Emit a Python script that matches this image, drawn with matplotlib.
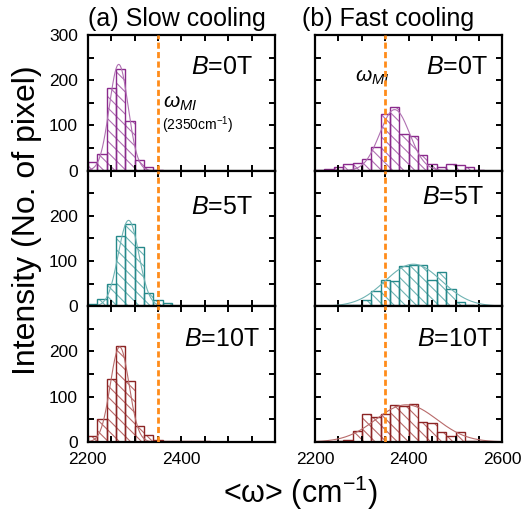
import numpy as np
import matplotlib
matplotlib.use("Agg")
import matplotlib.pyplot as plt

plt.rcParams['font.family'] = ['Liberation Sans', 'DejaVu Sans']
plt.rcParams['mathtext.fontset'] = 'custom'
plt.rcParams['mathtext.rm'] = 'Liberation Sans'
plt.rcParams['mathtext.it'] = 'Liberation Sans:italic'
plt.rcParams['hatch.linewidth'] = 0.8

# histogram bins (cm^-1), 20 wide starting at 2200
bin_start = 2200
bin_width = 20

# pixel counts per bin, slow cooling
slow_0T = [20, 37, 183, 225, 110, 24, 8, 2]
slow_5T = [6, 16, 50, 156, 181, 132, 30, 13, 8]
slow_10T = [13, 50, 139, 211, 134, 36, 16, 4, 3, 2, 2, 2, 2]

# pixel counts per bin, fast cooling
fast_0T = [2, 4, 9, 14, 17, 26, 52, 125, 141, 82, 77, 34, 14, 9, 14, 12, 7, 2]
fast_5T = [0, 0, 1, 2, 3, 13, 33, 58, 56, 89, 92, 92, 59, 75, 39, 10, 3]
fast_10T = [0, 0, 2, 4, 25, 61, 56, 62, 82, 79, 84, 43, 41, 21, 13, 21, 3, 2]

# gaussian fits: (center, sigma, amplitude)
slow_fits = [(2266, 20, 235), (2287, 22, 190), (2268, 20, 210)]
fast_fits = [(2370, 32, 135), (2410, 60, 93), (2395, 65, 82)]

fields = ['0T', '5T', '10T']
omega_mi = 2350

edge_colors = ['#8a2a8c', '#25898a', '#8c2424']
hatch_colors = ['#b070b2', '#6fb3b3', '#b86a6a']

# B-label anchor (right edge, baseline) in axes coords
slow_label_pos = [(0.88, 0.71), (0.88, 0.68), (0.92, 0.705)]
fast_label_pos = [(0.92, 0.71), (0.90, 0.755), (0.95, 0.705)]

fig = plt.figure(figsize=(5.26, 5.15), dpi=100)

h = 0.790 / 3
bottom0 = 0.142
col_x = [0.167, 0.599]
col_w = 0.356


def draw_panel(ax, counts, fit, color, hcolor):
    counts = np.asarray(counts)
    lefts = bin_start + bin_width * np.arange(len(counts))
    ax.bar(lefts, counts, width=bin_width, align='edge', facecolor='none',
           edgecolor=hcolor, linewidth=0, hatch='\\\\\\')
    ax.bar(lefts, counts, width=bin_width, align='edge', fill=False,
           edgecolor=color, linewidth=1.0)
    c, s, a = fit
    xs = np.linspace(2200, 2600, 400)
    ax.plot(xs, a * np.exp(-(xs - c) ** 2 / (2 * s ** 2)), color=hcolor, lw=0.8)
    ax.axvline(omega_mi, color='#ff8c1a', lw=2.0, ls=(0, (2.2, 1.2)), zorder=5)
    ax.set_xlim(2200, 2600)
    ax.set_ylim(0, 300)
    ax.set_xticks(np.arange(2200, 2601, 50))
    ax.set_yticks(np.arange(0, 301, 50))
    ax.tick_params(direction='in', top=True, right=True, length=4, width=1.4,
                   labelsize=12.5, pad=7)
    for sp in ax.spines.values():
        sp.set_linewidth(1.6)


slow_sets = [slow_0T, slow_5T, slow_10T]
fast_sets = [fast_0T, fast_5T, fast_10T]

for col, (sets, fits, label_pos) in enumerate([(slow_sets, slow_fits, slow_label_pos),
                                               (fast_sets, fast_fits, fast_label_pos)]):
    for row in range(3):
        ax = fig.add_axes([col_x[col], bottom0 + (2 - row) * h, col_w, h])
        draw_panel(ax, sets[row], fits[row], edge_colors[row], hatch_colors[row])

        ylabels = ['0', '', '100', '', '200', '', '300' if row == 0 else '']
        if col == 0:
            ax.set_yticklabels(ylabels)
        else:
            ax.set_yticklabels([])
        if row == 2:
            xl = ['2200', '', '', '', '2400', '', '', '', '2600' if col == 1 else '']
            ax.set_xticklabels(xl)
        else:
            ax.set_xticklabels([])

        bx, by = label_pos[row]
        ax.text(bx, by, '$B$=' + fields[row], transform=ax.transAxes,
                ha='right', va='baseline', fontsize=18)

        if row == 0 and col == 0:
            ax.text(0.40, 0.465, r'$\omega_{MI}$', transform=ax.transAxes,
                    ha='left', va='baseline', fontsize=15)
            ax.text(0.395, 0.30, '(2350cm$^{-1}$)', transform=ax.transAxes,
                    ha='left', va='baseline', fontsize=10)
        if row == 0 and col == 1:
            ax.text(0.215, 0.655, r'$\omega_{MI}$', transform=ax.transAxes,
                    ha='left', va='baseline', fontsize=15)

fig.text(0.167, 0.95, '(a) Slow cooling', ha='left', va='baseline', fontsize=18)
fig.text(0.574, 0.95, '(b) Fast cooling', ha='left', va='baseline', fontsize=18)
fig.text(0.052, 0.573, 'Intensity (No. of pixel)', rotation=90,
         ha='center', va='center', fontsize=23)
fig.text(0.571, 0.023, '<ω> (cm$^{-1}$)', ha='center', va='baseline',
         fontsize=22)

fig.savefig('out.png', dpi=100)
